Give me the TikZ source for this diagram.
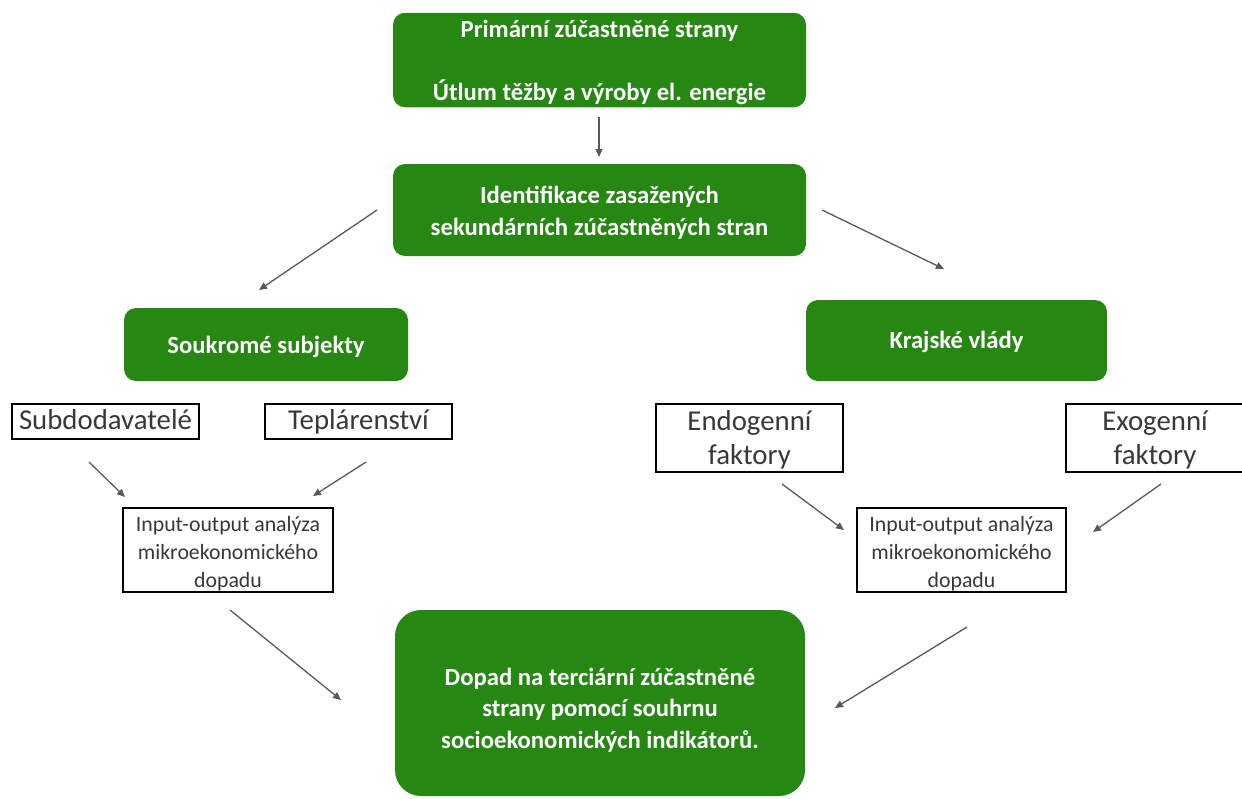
\documentclass[tikz,border=0pt]{standalone}
\usepackage{fontspec}
\setmainfont{Carlito}
\usetikzlibrary{arrows.meta}
\definecolor{boxgreen}{RGB}{38,135,18}
\definecolor{arrowgray}{RGB}{89,89,89}
\newcommand{\lowertext}[2]{\raisebox{-#1}[\height][\depth]{\begin{tabular}{@{}c@{}}#2\end{tabular}}}
\tikzset{
  greenbox/.style={fill=boxgreen, rounded corners=12pt, inner sep=0pt, align=center,
    text=white, font=\fontsize{24.7}{31.5}\selectfont\bfseries},
  framebox/.style={draw=black, line width=2.4pt, inner sep=0pt, align=center,
    font=\fontsize{28.8}{34}\selectfont, text=black!78},
  iobox/.style={draw=black, line width=2.2pt, inner sep=0pt, align=center,
    font=\fontsize{21.8}{28}\selectfont, text=black!78},
  arr/.style={draw=arrowgray, line width=1.3pt, -{Triangle[length=8pt,width=7pt]}}
}
\begin{document}
\begin{tikzpicture}[x=1pt,y=-1pt]
\useasboundingbox (0,0) rectangle (1242,798);
\clip (0,0) rectangle (1242,798);
\node[greenbox, minimum width=413pt, minimum height=92pt] (prim) at (599.5,60)
  {\lowertext{2.5pt}{Primární zúčastněné strany\\ \\ Útlum těžby a výroby el. energie}};
\node[greenbox, minimum width=413pt, minimum height=92pt] (ident) at (599.5,210)
  {\lowertext{3pt}{Identifikace zasažených\\ sekundárních zúčastněných stran}};
\node[greenbox, minimum width=284pt, minimum height=73pt] (souk) at (266,344.5)
  {\lowertext{3pt}{Soukromé subjekty}};
\node[greenbox, minimum width=301pt, minimum height=81pt] (kraj) at (956.5,340.5)
  {\lowertext{2pt}{Krajské vlády}};
\node[framebox, minimum width=187pt, minimum height=35pt] (subd) at (105.5,421.5)
  {\lowertext{1pt}{Subdodavatelé}};
\node[framebox, minimum width=187pt, minimum height=35pt] (tepl) at (358.5,421.5)
  {\lowertext{1pt}{Teplárenství}};
\node[framebox, minimum width=187pt, minimum height=68pt] (endo) at (749.5,438)
  {\lowertext{3pt}{Endogenní\\ faktory}};
\node[framebox, minimum width=178pt, minimum height=68pt] (exo) at (1155,438)
  {\lowertext{3pt}{Exogenní\\ faktory}};
\node[iobox, minimum width=210pt, minimum height=80pt] (iol) at (228,550)
  {\lowertext{4pt}{Input-output analýza\\ mikroekonomického\\ dopadu}};
\node[iobox, minimum width=209pt, minimum height=80pt] (ior) at (961.5,550)
  {\lowertext{4pt}{Input-output analýza\\ mikroekonomického\\ dopadu}};
\node[greenbox, rounded corners=26pt, minimum width=410pt, minimum height=186pt] (dopad) at (600,703)
  {\lowertext{7.5pt}{Dopad na terciární zúčastněné\\ strany pomocí souhrnu\\ socioekonomických indikátorů.}};
% connector end points
\coordinate (a1s) at (599,117); \coordinate (a1e) at (599,157);
\coordinate (a2s) at (377,210); \coordinate (a2e) at (259,290);
\coordinate (a3s) at (822,210); \coordinate (a3e) at (944,269);
\coordinate (a4s) at (89,462);  \coordinate (a4e) at (125,497);
\coordinate (a5s) at (366,462); \coordinate (a5e) at (313,496);
\coordinate (a6s) at (782,484); \coordinate (a6e) at (844,530);
\coordinate (a7s) at (1161,484); \coordinate (a7e) at (1093,532);
\coordinate (a8s) at (230,610); \coordinate (a8e) at (341,700);
\coordinate (a9s) at (967,627); \coordinate (a9e) at (835,708);
\draw[arr] (a1s) -- (a1e);
\draw[arr] (a2s) -- (a2e);
\draw[arr] (a3s) -- (a3e);
\draw[arr] (a4s) -- (a4e);
\draw[arr] (a5s) -- (a5e);
\draw[arr] (a6s) -- (a6e);
\draw[arr] (a7s) -- (a7e);
\draw[arr] (a8s) -- (a8e);
\draw[arr] (a9s) -- (a9e);
\end{tikzpicture}
\end{document}
